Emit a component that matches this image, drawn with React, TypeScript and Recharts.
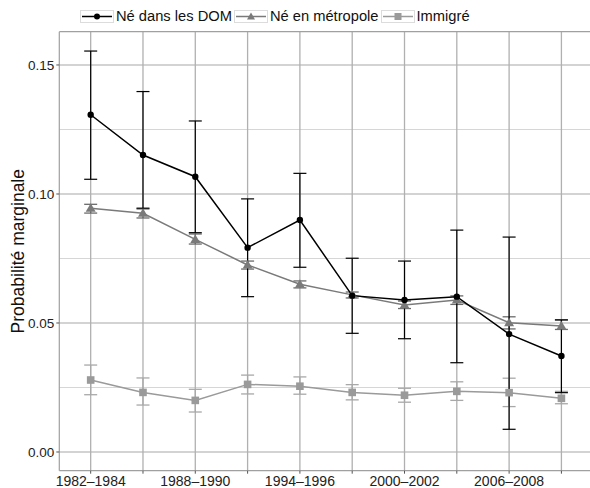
import React from 'react';
import { ComposedChart, Line, XAxis, YAxis, ReferenceLine, ErrorBar } from 'recharts';

const periods = [
  '1982–1984', '1985–1987', '1988–1990', '1991–1993', '1994–1996',
  '1997–1999', '2000–2002', '2003–2005', '2006–2008', '2009–2011',
];

// Né dans les DOM
const domMean = [0.1307, 0.1151, 0.1067, 0.0792, 0.0899, 0.0606, 0.0589, 0.0602, 0.0457, 0.0372];
const domLow = [0.1057, 0.0945, 0.0850, 0.0602, 0.0716, 0.0460, 0.0439, 0.0346, 0.0088, 0.0230];
const domHigh = [0.1554, 0.1397, 0.1283, 0.0981, 0.1080, 0.0751, 0.0740, 0.0860, 0.0833, 0.0512];

// Né en métropole
const metroMean = [0.0945, 0.0925, 0.0824, 0.0725, 0.0650, 0.0609, 0.0570, 0.0589, 0.0501, 0.0488];
const metroLow = [0.0926, 0.0907, 0.0806, 0.0709, 0.0636, 0.0597, 0.0556, 0.0572, 0.0477, 0.0475];
const metroHigh = [0.0960, 0.0942, 0.0845, 0.0740, 0.0663, 0.0620, 0.0585, 0.0605, 0.0524, 0.0512];

// Immigré
const immMean = [0.0279, 0.0231, 0.0200, 0.0262, 0.0255, 0.0231, 0.0220, 0.0235, 0.0230, 0.0208];
const immLow = [0.0222, 0.0182, 0.0155, 0.0225, 0.0224, 0.0202, 0.0193, 0.0200, 0.0176, 0.0187];
const immHigh = [0.0337, 0.0287, 0.0243, 0.0298, 0.0291, 0.0261, 0.0247, 0.0272, 0.0286, 0.0235];

const yTicks = [0, 0.05, 0.1, 0.15];
const yMinor = [0.025, 0.075, 0.125];
const Y_MIN = -0.00725;
const Y_MAX = 0.1629;

const data = periods.map((p, i) => ({
  idx: i,
  period: p,
  dom: domMean[i],
  domErr: [domMean[i] - domLow[i], domHigh[i] - domMean[i]],
  metro: metroMean[i],
  metroErr: [metroMean[i] - metroLow[i], metroHigh[i] - metroMean[i]],
  imm: immMean[i],
  immErr: [immMean[i] - immLow[i], immHigh[i] - immMean[i]],
}));

const FONT = '"Liberation Sans", Arial, sans-serif';

const CircleDot = (props: any) => {
  const { cx, cy } = props;
  return <circle cx={cx} cy={cy} r={3.2} fill="#000" />;
};
const TriDot = (props: any) => {
  const { cx, cy } = props;
  return <polygon points={`${cx},${cy - 5} ${cx - 5},${cy + 3.5} ${cx + 5},${cy + 3.5}`} fill="#7a7a7a" />;
};
const SquareDot = (props: any) => {
  const { cx, cy } = props;
  return <rect x={cx - 3.8} y={cy - 3.8} width={7.6} height={7.6} fill="#9a9a9a" />;
};

const legendItems = [
  { label: 'Né dans les DOM', color: '#000', shape: 'circle' },
  { label: 'Né en métropole', color: '#7a7a7a', shape: 'triangle' },
  { label: 'Immigré', color: '#9a9a9a', shape: 'square' },
];

function LegendKey({ color, shape }: { color: string; shape: string }) {
  return (
    <svg width={34} height={13} style={{ display: 'block' }}>
      <rect x={0.5} y={0.5} width={33} height={12} fill="#fff" stroke="#dcdcdc" />
      <line x1={2} x2={32} y1={6.5} y2={6.5} stroke={color} strokeWidth={1.5} />
      {shape === 'circle' && <circle cx={17} cy={6.5} r={3} fill={color} />}
      {shape === 'triangle' && <polygon points="17,2.5 13,9.5 21,9.5" fill={color} />}
      {shape === 'square' && <rect x={13.5} y={3} width={7} height={7} fill={color} />}
    </svg>
  );
}

export default function App() {
  return (
    <div style={{ position: 'absolute', left: 0, top: 0, width: 590, height: 488, overflow: 'hidden', background: '#fff', fontFamily: FONT }}>
      <div style={{ position: 'absolute', left: 80, top: 8, display: 'flex', alignItems: 'center', fontSize: 14.7, color: '#111', whiteSpace: 'nowrap' }}>
        {legendItems.map((it) => (
          <div key={it.label} style={{ display: 'flex', alignItems: 'center', marginRight: 2 }}>
            <LegendKey color={it.color} shape={it.shape} />
            <span style={{ marginLeft: 2 }}>{it.label}</span>
          </div>
        ))}
      </div>
      <ComposedChart width={600} height={488} data={data} margin={{ top: 31.7, right: 7.2, left: 0, bottom: 0 }}>
        {yMinor.map((v) => (
          <ReferenceLine key={'ym' + v} y={v} stroke="#d6d6d6" strokeWidth={1.2} />
        ))}
        {yTicks.map((v) => (
          <ReferenceLine key={'yM' + v} y={v} stroke="#a8a8a8" strokeWidth={1.2} />
        ))}
        {periods.map((p, i) => (
          <ReferenceLine key={'x' + p} x={i} stroke="#b0b0b0" strokeWidth={1.3} />
        ))}
        <ReferenceLine y={Y_MAX} stroke="#a0a0a0" strokeWidth={1.2} />
        <XAxis
          dataKey="idx"
          type="number"
          domain={[-0.6, 9.6]}
          allowDataOverflow
          ticks={periods.map((_, i) => i)}
          interval={0}
          tickFormatter={(v: number) => (v % 2 === 0 ? periods[v] : '')}
          tickSize={3}
          axisLine={{ stroke: '#a0a0a0', strokeWidth: 1.2 }}
          tickLine={{ stroke: '#555' }}
          tick={{ fontSize: 14, fill: '#222', fontFamily: FONT }}
          height={17.3}
        />
        <YAxis
          type="number"
          domain={[Y_MIN, Y_MAX]}
          allowDataOverflow
          ticks={yTicks}
          tickFormatter={(v: number) => v.toFixed(2)}
          tickSize={3}
          axisLine={{ stroke: '#a0a0a0', strokeWidth: 1.2 }}
          tickLine={{ stroke: '#555' }}
          tick={{ fontSize: 13.5, fill: '#222', fontFamily: FONT }}
          width={59.3}
          label={{
            content: (props: any) => {
              const vb = props.viewBox || {};
              const cy = vb.y + vb.height / 2;
              return (
                <text x={18} y={cy} transform={`rotate(-90, 18, ${cy})`} textAnchor="middle" dominantBaseline="central" fontSize={17.5} fill="#111" fontFamily={FONT}>
                  Probabilité marginale
                </text>
              );
            },
          }}
        />
        <Line dataKey="imm" stroke="#9a9a9a" strokeWidth={1.5} dot={SquareDot} activeDot={false} isAnimationActive={false}>
          <ErrorBar dataKey="immErr" direction="y" width={6.5} stroke="#a8a8a8" strokeWidth={1.3} />
        </Line>
        <Line dataKey="metro" stroke="#7a7a7a" strokeWidth={1.5} dot={TriDot} activeDot={false} isAnimationActive={false}>
          <ErrorBar dataKey="metroErr" direction="y" width={6.5} stroke="#6a6a6a" strokeWidth={1.3} />
        </Line>
        <Line dataKey="dom" stroke="#000" strokeWidth={1.5} dot={CircleDot} activeDot={false} isAnimationActive={false}>
          <ErrorBar dataKey="domErr" direction="y" width={6.5} stroke="#000" strokeWidth={1.2} />
        </Line>
      </ComposedChart>
    </div>
  );
}
